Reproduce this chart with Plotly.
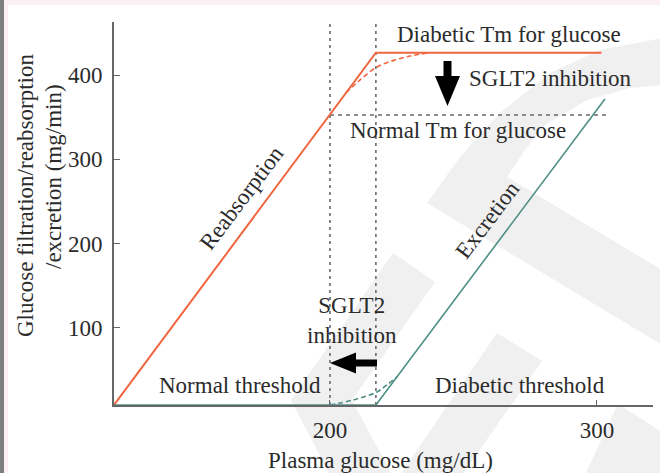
import plotly.graph_objects as go

# ---------------- data ----------------
reabs_glucose = [119.1, 217.2, 301.7]
reabs_rate = [8.0, 426.9, 426.9]

reabs_sglt2_glucose = [206.0, 211.2, 217.6, 224.3, 230.0, 236.7]
reabs_sglt2_rate = [379.0, 394.4, 409.9, 418.2, 423.0, 426.6]

excr_glucose = [119.1, 217.2, 303.0]
excr_rate = [8.0, 8.0, 371.9]

excr_sglt2_glucose = [200.0, 208.6, 217.6, 221.3, 225.1]
excr_sglt2_rate = [8.0, 13.9, 23.5, 31.8, 41.3]

thresholds = [200.0, 217.2]          # normal, diabetic threshold
threshold_span = [8.0, 465.8]
normal_tm = 352.8
normal_tm_span = [200.0, 304.1]

x_ticks = [200, 300]
y_ticks = [100, 200, 300, 400]

# ---------------- layout geometry ----------------
W, H = 660, 473
L, R, T, B = 114, 7, 22, 68
X0, X1 = 119.1, 321.0
Y0, Y1 = 8.0, 463.4
PW, PH = W - L - R, H - T - B

RED = "#f0663f"
TEAL = "#4f8f86"
GRID = "#6a6a6a"
AX = "#666666"
TXT = "#2b2b2b"
FONT = "'Liberation Serif', 'Times New Roman', 'DejaVu Serif', serif"
FS = 23


def dx(px):
    return X0 + (px - L) * (X1 - X0) / PW


def dy(py):
    return Y0 + (H - B - py) * (Y1 - Y0) / PH


def to_px(x, y):
    return L + (x - X0) * PW / (X1 - X0), (H - B) - (y - Y0) * PH / (Y1 - Y0)


def ppx(px):
    return (px - L) / PW


def ppy(py):
    return (H - B - py) / PH


def arrow_path(tail, tip, head_len, head_w, shaft_w):
    tx, ty = to_px(*tail)
    hx, hy = to_px(*tip)
    vx, vy = hx - tx, hy - ty
    n = (vx ** 2 + vy ** 2) ** 0.5
    ux, uy = vx / n, vy / n
    nx, ny = -uy, ux
    bx, by = hx - ux * head_len, hy - uy * head_len
    pts = [
        (tx + nx * shaft_w / 2, ty + ny * shaft_w / 2),
        (bx + nx * shaft_w / 2, by + ny * shaft_w / 2),
        (bx + nx * head_w / 2, by + ny * head_w / 2),
        (hx, hy),
        (bx - nx * head_w / 2, by - ny * head_w / 2),
        (bx - nx * shaft_w / 2, by - ny * shaft_w / 2),
        (tx - nx * shaft_w / 2, ty - ny * shaft_w / 2),
    ]
    return "M " + " L ".join(f"{dx(px)},{dy(py)}" for px, py in pts) + " Z"


def paper_poly(pts):
    return "M " + " L ".join(f"{ppx(px)},{ppy(py)}" for px, py in pts) + " Z"


fig = go.Figure()

# reference dashed lines
for xt in thresholds:
    fig.add_trace(go.Scatter(x=[xt, xt], y=threshold_span, mode="lines",
                             line=dict(color=GRID, width=1.6, dash="3px,4px"),
                             cliponaxis=False, hoverinfo="skip", showlegend=False))
fig.add_trace(go.Scatter(x=normal_tm_span, y=[normal_tm, normal_tm], mode="lines",
                         line=dict(color=GRID, width=1.6, dash="4px,4px"),
                         cliponaxis=False, hoverinfo="skip", showlegend=False))

# curves
fig.add_trace(go.Scatter(x=reabs_sglt2_glucose, y=reabs_sglt2_rate, mode="lines",
                         line=dict(color=RED, width=1.6, dash="5px,3px", shape="spline"),
                         cliponaxis=False, hoverinfo="skip", showlegend=False))
fig.add_trace(go.Scatter(x=excr_sglt2_glucose, y=excr_sglt2_rate, mode="lines",
                         line=dict(color=TEAL, width=1.6, dash="5px,3px", shape="spline"),
                         cliponaxis=False, hoverinfo="skip", showlegend=False))
fig.add_trace(go.Scatter(x=reabs_glucose, y=reabs_rate, mode="lines",
                         line=dict(color=RED, width=2),
                         cliponaxis=False, hoverinfo="skip", showlegend=False))
fig.add_trace(go.Scatter(x=excr_glucose, y=excr_rate, mode="lines",
                         line=dict(color=TEAL, width=1.6),
                         cliponaxis=False, hoverinfo="skip", showlegend=False))

shapes = []
# faint watermark
WM = "#f0f0f0"
wm_polys = [
    [(662, 38), (600, 50), (550, 73), (500, 113), (460, 157), (427, 203),
     (662, 345), (662, 270), (507, 177), (525, 150), (545, 125), (587, 100),
     (630, 88), (662, 85)],
    [(393, 253), (435, 282), (352, 400), (392, 475), (330, 475), (291, 400)],
    [(497, 333), (542, 361), (462, 475), (400, 475)],
    [(618, 404), (662, 432), (662, 475), (585, 475)],
]
for p in wm_polys:
    shapes.append(dict(type="path", xref="paper", yref="paper", path=paper_poly(p),
                       fillcolor=WM, line=dict(width=0), layer="below"))
# page border
shapes.append(dict(type="rect", xref="paper", yref="paper", x0=ppx(0), x1=ppx(660),
                   y0=ppy(5), y1=ppy(0), fillcolor="#fcf0f2", line=dict(width=0), layer="below"))
shapes.append(dict(type="rect", xref="paper", yref="paper", x0=ppx(4), x1=ppx(8),
                   y0=ppy(473), y1=ppy(0), fillcolor="#fcf0f2", line=dict(width=0), layer="below"))
shapes.append(dict(type="rect", xref="paper", yref="paper", x0=ppx(0), x1=ppx(4),
                   y0=ppy(473), y1=ppy(0), fillcolor="#7e7e7e", line=dict(width=0), layer="below"))

# arrows
shapes.append(dict(type="path", xref="x", yref="y",
                   path=arrow_path((dx(447.5), dy(61)), (dx(447.5), dy(106)), 30, 25, 8),
                   fillcolor="black", line=dict(width=0)))
shapes.append(dict(type="path", xref="x", yref="y",
                   path=arrow_path((dx(377), dy(363)), (dx(330), dy(363)), 26, 21, 7),
                   fillcolor="black", line=dict(width=0)))

ann = []


def label(text, px, py, angle=0, size=FS):
    ann.append(dict(text=text, xref="paper", yref="paper", x=ppx(px), y=ppy(py),
                    xanchor="center", yanchor="middle", showarrow=False, textangle=angle,
                    font=dict(family=FONT, size=size, color=TXT)))


label("Diabetic Tm for glucose", 509, 34)
label("SGLT2 inhibition", 550, 79)
label("Normal Tm for glucose", 458, 130)
label("Reabsorption", 241, 198, -53)
label("Excretion", 488, 220, -53)
label("SGLT2<br>inhibition", 352, 320)
label("Normal threshold", 240, 385)
label("Diabetic threshold", 520, 385)
label("Plasma glucose (mg/dL)", 380, 460)
label("Glucose filtration/reabsorption", 25, 196, -90)
label("/excretion (mg/min)", 53, 177, -90)

fig.update_layout(
    width=W, height=H,
    margin=dict(l=L, r=R, t=T, b=B, pad=0, autoexpand=False),
    paper_bgcolor="white", plot_bgcolor="rgba(0,0,0,0)",
    showlegend=False,
    shapes=shapes, annotations=ann,
    font=dict(family=FONT, size=FS, color=TXT),
)
fig.update_xaxes(range=[X0, X1], showgrid=False, zeroline=False, automargin=False,
                 showline=True, linecolor=AX, linewidth=1.6, layer="below traces",
                 tickmode="array", tickvals=x_ticks, ticktext=[str(v) for v in x_ticks],
                 ticks="inside", ticklen=5, tickwidth=1.2, tickcolor=AX,
                 ticklabelstandoff=4,
                 tickfont=dict(family=FONT, size=FS, color=TXT))
fig.update_yaxes(range=[Y0, Y1], showgrid=False, zeroline=False, automargin=False,
                 showline=True, linecolor=AX, linewidth=1.6, layer="below traces",
                 tickmode="array", tickvals=y_ticks, ticktext=[str(v) for v in y_ticks],
                 ticks="inside", ticklen=6, tickwidth=1.2, tickcolor=AX,
                 ticklabelstandoff=5,
                 tickfont=dict(family=FONT, size=FS, color=TXT))

fig.write_html("out.html", config={"displayModeBar": False},
               post_script="document.body.style.margin='0px';document.body.style.overflow='hidden';")
